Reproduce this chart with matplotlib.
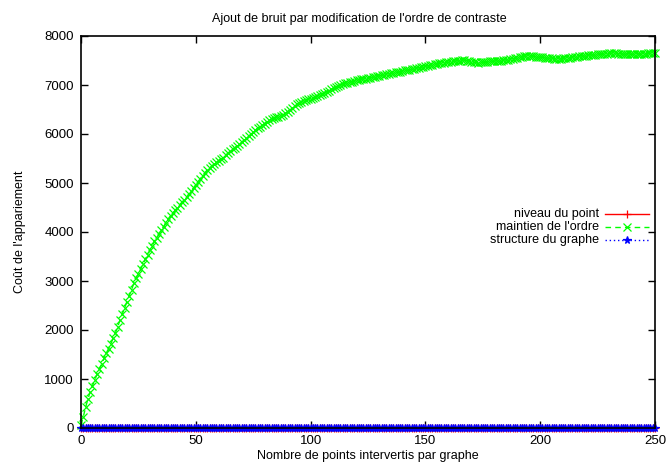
import numpy as np
import matplotlib
matplotlib.use("Agg")
import matplotlib.pyplot as plt
from matplotlib.lines import Line2D

plt.rcParams['font.family'] = ['Liberation Sans', 'DejaVu Sans']

# Coût de l'appariement pour chaque nombre de points intervertis (0..250)
maintien_ordre = [
    60, 230, 420, 590, 740, 860, 980, 1100, 1200, 1310,
    1420, 1530, 1620, 1720, 1830, 1940, 2070, 2200, 2330, 2450,
    2580, 2700, 2820, 2950, 3060, 3150, 3250, 3350, 3440, 3530,
    3630, 3720, 3810, 3880, 3960, 4040, 4110, 4190, 4270, 4330,
    4390, 4440, 4500, 4560, 4610, 4660, 4710, 4770, 4840, 4900,
    4960, 5030, 5090, 5150, 5210, 5270, 5310, 5350, 5390, 5420,
    5450, 5480, 5520, 5570, 5610, 5650, 5690, 5720, 5760, 5790,
    5830, 5870, 5910, 5950, 5990, 6040, 6080, 6120, 6150, 6180,
    6210, 6250, 6280, 6310, 6330, 6340, 6350, 6360, 6380, 6420,
    6450, 6490, 6530, 6570, 6610, 6640, 6660, 6680, 6690, 6710,
    6720, 6740, 6760, 6780, 6800, 6820, 6840, 6860, 6880, 6910,
    6930, 6950, 6980, 7000, 7020, 7040, 7050, 7060, 7070, 7090,
    7100, 7110, 7120, 7120, 7130, 7140, 7150, 7160, 7170, 7180,
    7190, 7200, 7210, 7220, 7230, 7240, 7250, 7260, 7260, 7270,
    7290, 7300, 7300, 7310, 7320, 7330, 7340, 7350, 7360, 7370,
    7380, 7390, 7400, 7410, 7420, 7430, 7440, 7440, 7450, 7460,
    7460, 7470, 7480, 7490, 7490, 7500, 7510, 7510, 7500, 7490,
    7470, 7460, 7460, 7450, 7460, 7460, 7470, 7470, 7480, 7480,
    7490, 7490, 7500, 7500, 7510, 7510, 7520, 7530, 7540, 7550,
    7560, 7570, 7580, 7590, 7600, 7600, 7600, 7590, 7580, 7580,
    7570, 7570, 7560, 7560, 7550, 7550, 7540, 7540, 7540, 7540,
    7550, 7550, 7560, 7560, 7570, 7570, 7580, 7590, 7590, 7600,
    7600, 7610, 7610, 7620, 7620, 7630, 7630, 7640, 7640, 7640,
    7650, 7650, 7650, 7650, 7640, 7640, 7630, 7630, 7640, 7630,
    7630, 7630, 7640, 7640, 7630, 7640, 7640, 7650, 7650, 7660,
    7660,
]
niveau_point = [0] * len(maintien_ordre)
structure_graphe = [0] * len(maintien_ordre)
points = np.arange(len(maintien_ordre))

x_ticks = [0, 50, 100, 150, 200, 250]
y_ticks = [0, 1000, 2000, 3000, 4000, 5000, 6000, 7000, 8000]

series = [
    ("niveau du point", niveau_point, dict(color="#ff0000", linestyle="-", marker="+")),
    ("maintien de l'ordre", maintien_ordre, dict(color="#00ff00", linestyle=(0, (4, 3)), marker="x")),
    ("structure du graphe", structure_graphe, dict(color="#0000ff", linestyle=(0, (1, 2)), marker="*")),
]

fig = plt.figure(figsize=(6.67, 4.68), dpi=100)
ax = fig.add_axes([81 / 667, 40 / 468, 574 / 667, 392 / 468])

for label, values, style in series:
    ax.plot(points, values, linewidth=1, markersize=5.5, markeredgewidth=0.9,
            clip_on=False, **style)

ax.set_xlim(0, 250)
ax.set_ylim(0, 8000)
ax.set_xticks(x_ticks)
ax.set_yticks(y_ticks)
ax.tick_params(direction="in", length=5, width=1, top=True, right=True,
               labelsize=9.5, pad=5)
for sp in ax.spines.values():
    sp.set_linewidth(1.2)
    sp.set_zorder(5)

ax.set_title("Ajout de bruit par modification de l'ordre de contraste",
             fontsize=9, pad=10, x=0.485)
ax.set_xlabel("Nombre de points intervertis par graphe", fontsize=9, labelpad=2)
ax.set_ylabel("Coût de l'appariement", fontsize=9, labelpad=13)

# légende façon gnuplot : texte aligné à droite, échantillon à droite
for i, (label, values, style) in enumerate(series):
    yy = 0.545 - i * 0.033
    ax.text(0.903, yy, label, transform=ax.transAxes, ha="right", va="center",
            fontsize=9)
    ax.add_line(Line2D([0.913, 0.99], [yy, yy], transform=ax.transAxes,
                       linewidth=1, color=style["color"], linestyle=style["linestyle"]))
    ax.add_line(Line2D([0.9515], [yy], transform=ax.transAxes, linestyle="none",
                       marker=style["marker"], markersize=5.5, markeredgewidth=0.9,
                       color=style["color"]))

fig.savefig("out.png", dpi=100)
